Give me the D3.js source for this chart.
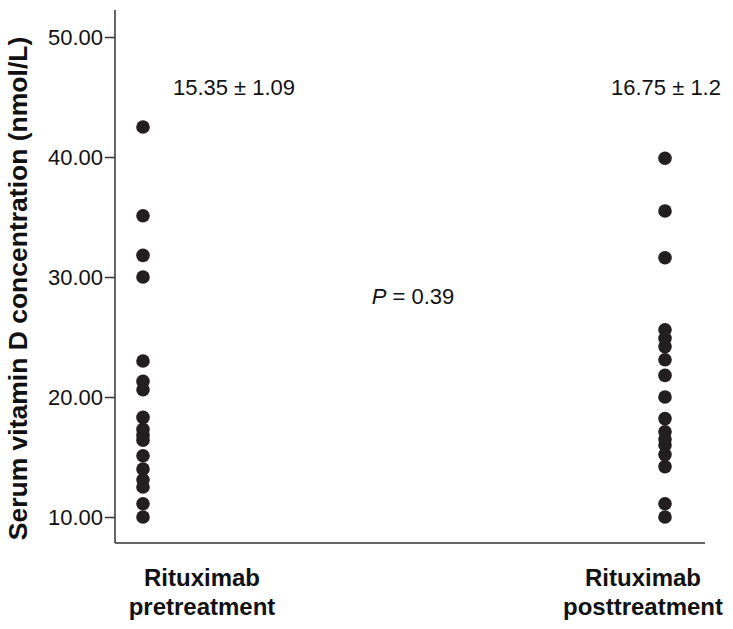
<!DOCTYPE html>
<html><head><meta charset="utf-8">
<script src="https://cdn.jsdelivr.net/npm/d3@7"></script>
<style>body{margin:0;background:#fff}svg{display:block}text{font-family:"Liberation Sans",Arial,sans-serif;fill:#111}</style>
</head><body><div id="chart"></div>
<script>
const categories = ["Rituximab pretreatment", "Rituximab posttreatment"];
const categoryLines = [["Rituximab", "pretreatment"], ["Rituximab", "posttreatment"]];
const preValues = [42.5, 35.1, 31.8, 30.0, 23.0, 21.3, 20.6, 18.3, 17.3, 16.8, 16.4, 15.1, 14.0, 13.1, 12.5, 11.1, 10.0];
const postValues = [39.9, 35.5, 31.6, 25.6, 24.9, 24.2, 23.1, 21.8, 20.0, 18.2, 17.1, 16.5, 16.0, 15.2, 14.2, 11.1, 10.0];
const groupStats = ["15.35 \u00b1 1.09", "16.75 \u00b1 1.2"];
const yTicks = [10, 20, 30, 40, 50];
const pValue = "0.39";
const yTitle = "Serum vitamin D concentration (nmol/L)";

const W = 733, H = 629;
const svg = d3.select("#chart").append("svg").attr("width", W).attr("height", H);
const axisX = 115, axisBottom = 543, axisTop = 10, axisRight = 705;
const y = d3.scaleLinear().domain([10, 50]).range([517, 37]);
const x = d3.scaleOrdinal().domain(categories).range([143, 665]);
const labelX = d3.scaleOrdinal().domain(categories).range([202, 643]);
const ink = "#231f20";

svg.append("line").attr("x1", axisX).attr("x2", axisX).attr("y1", axisTop).attr("y2", axisBottom).attr("stroke", "#333").attr("stroke-width", 1.5);
svg.append("line").attr("x1", axisX).attr("x2", axisRight).attr("y1", axisBottom).attr("y2", axisBottom).attr("stroke", "#333").attr("stroke-width", 1.5);

const yAxis = svg.append("g").attr("transform", `translate(${axisX},0)`)
  .call(d3.axisLeft(y).tickValues(yTicks).tickFormat(d3.format(".2f")).tickSize(10).tickPadding(2));
yAxis.select(".domain").remove();
yAxis.selectAll(".tick line").attr("stroke", "#333").attr("stroke-width", 1.5);
yAxis.selectAll(".tick text").style("font-size", "22px").style("font-family", "'Liberation Sans',Arial,sans-serif").attr("fill", "#111");

svg.append("text").attr("transform", `translate(27,${(axisTop + axisBottom) / 2 + 12}) rotate(-90)`)
  .attr("text-anchor", "middle").style("font-size", "26.5px").style("font-weight", "bold").text(yTitle);

const series = [preValues, postValues];
series.forEach((vals, i) => {
  svg.append("g").selectAll("circle").data(vals).join("circle")
    .attr("cx", x(categories[i])).attr("cy", d => y(d)).attr("r", 6.8).attr("fill", ink);
});

const statX = [234, 666];
groupStats.forEach((s, i) => {
  svg.append("text").attr("x", statX[i]).attr("y", 95).attr("text-anchor", "middle").style("font-size", "22px").text(s);
});

const pt = svg.append("text").attr("x", 413).attr("y", 304).attr("text-anchor", "middle").style("font-size", "22px");
pt.append("tspan").style("font-style", "italic").text("P");
pt.append("tspan").text(" = " + pValue);

categoryLines.forEach((lines, i) => {
  const t = svg.append("text").attr("text-anchor", "middle").style("font-size", "24px").style("font-weight", "bold");
  lines.forEach((l, j) => t.append("tspan").attr("x", labelX(categories[i])).attr("y", 586 + j * 29).text(l));
});
</script></body></html>
